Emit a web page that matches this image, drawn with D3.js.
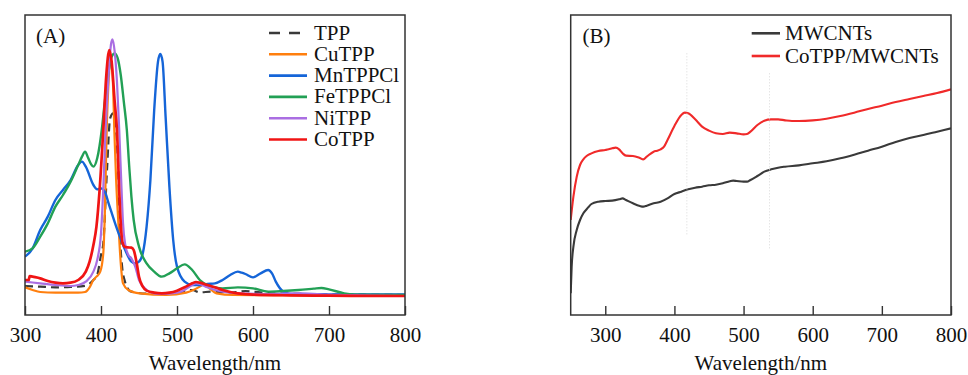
<!DOCTYPE html>
<html><head><meta charset="utf-8">
<script src="https://cdn.jsdelivr.net/npm/d3@7"></script>
<style>
html,body{margin:0;padding:0;background:#fff;}
svg text{font-family:"Liberation Serif","Times New Roman",serif;fill:#111;}
</style></head>
<body><svg id="c" width="968" height="375"></svg>
<script>
// ---------- DATA (wavelength nm, absorbance a.u.) ----------
const ticksA = [300, 400, 500, 600, 700, 800];
const ticksB = [300, 400, 500, 600, 700, 800];
const xTitle = "Wavelength/nm";

const seriesNamesA = ["TPP", "CuTPP", "MnTPPCl", "FeTPPCl", "NiTPP", "CoTPP"];

const TPP = [[300,.087],[320,.085],[340,.083],[360,.084],[380,.088],[390,.105],[395,.12],[400,.18],[403,.215],[408,.44],[412,.59],[416,.605],[420,.55],[423,.42],[425,.245],[428,.14],[431,.105],[435,.08],[440,.07],[460,.064],[480,.063],[500,.065],[512,.072],[520,.075],[530,.068],[545,.070],[555,.069],[575,.068],[590,.072],[600,.070],[620,.066],[650,.064],[700,.062],[800,.060]];

const CuTPP = [[300,.083],[310,.075],[320,.069],[340,.067],[370,.067],[379,.069],[385,.083],[390,.105],[394,.115],[399,.13],[403,.185],[405,.3],[407.5,.555],[410,.7],[413,.77],[416,.68],[417.5,.555],[420,.4],[423,.27],[426,.155],[429,.095],[436,.075],[451,.065],[486,.06],[512,.067],[530,.085],[535,.092],[541,.083],[552,.065],[574,.06],[800,.058]];

const MnTPPCl = [[300,.175],[310,.2],[320,.255],[330,.295],[340,.345],[350,.375],[360,.405],[370,.45],[375,.46],[380,.445],[390,.39],[395,.377],[400,.38],[405,.37],[410,.335],[420,.265],[430,.205],[440,.16],[445,.155],[450,.16],[455,.185],[460,.265],[465,.405],[470,.615],[475,.76],[478,.783],[481,.76],[485,.595],[490,.385],[495,.225],[500,.145],[510,.1],[520,.09],[530,.09],[540,.093],[550,.095],[560,.105],[570,.12],[580,.13],[585,.127],[590,.123],[600,.113],[610,.125],[620,.135],[625,.125],[630,.1],[640,.07],[650,.063],[700,.062],[800,.062]];

const FeTPPCl = [[300,.19],[310,.2],[320,.235],[330,.275],[340,.325],[350,.36],[360,.4],[370,.45],[375,.475],[379,.49],[383,.472],[387,.452],[390,.445],[395,.47],[401,.555],[405,.64],[410,.73],[414,.775],[418,.785],[422,.77],[426,.72],[430,.64],[434,.555],[437,.45],[440,.355],[443,.285],[450,.205],[460,.155],[470,.13],[480,.115],[490,.125],[500,.14],[510,.152],[520,.135],[530,.105],[540,.09],[550,.083],[560,.08],[580,.083],[600,.08],[620,.07],[640,.072],[660,.075],[680,.079],[690,.081],[700,.077],[720,.065],[740,.061],[800,.06]];

const NiTPP = [[300,.1],[320,.095],[340,.09],[360,.087],[370,.09],[380,.1],[390,.13],[395,.165],[400,.245],[403,.38],[406,.555],[410,.72],[413,.81],[415,.827],[418,.79],[421,.7],[424,.555],[427,.38],[429,.275],[432,.21],[436,.18],[440,.17],[445,.145],[450,.105],[460,.075],[470,.065],[480,.063],[500,.067],[510,.075],[520,.09],[525,.095],[530,.093],[540,.083],[550,.075],[560,.07],[580,.065],[620,.063],[660,.065],[700,.061],[800,.057]];

const CoTPP = [[300,.105],[305,.105],[306,.117],[310,.115],[320,.11],[330,.102],[340,.097],[350,.095],[360,.097],[370,.105],[380,.13],[385,.16],[390,.21],[394,.265],[398,.37],[403,.555],[407,.72],[411,.795],[414,.76],[418,.64],[421,.555],[424,.37],[426,.275],[428,.22],[431,.205],[435,.203],[440,.202],[443,.195],[447,.155],[450,.115],[455,.085],[460,.073],[470,.067],[480,.065],[490,.067],[500,.073],[510,.083],[520,.095],[525,.099],[530,.097],[540,.09],[550,.083],[560,.075],[570,.069],[580,.065],[600,.061],[650,.059],[700,.058],[800,.057]];

const seriesNamesB = ["MWCNTs", "CoTPP/MWCNTs"];

const MWCNTs = [[250,.065],[251.4,.145],[253.9,.205],[258.7,.255],[263.5,.285],[268.3,.305],[275,.322],[280,.333],[290,.34],[300,.342],[310,.343],[320,.347],[325,.35],[330,.345],[340,.335],[350,.327],[355,.325],[360,.328],[370,.335],[380,.34],[390,.35],[400,.363],[410,.37],[420,.377],[430,.382],[440,.385],[450,.389],[460,.391],[470,.395],[480,.401],[485,.403],[490,.402],[500,.4],[505,.4],[510,.405],[520,.417],[530,.43],[540,.437],[550,.442],[560,.445],[580,.449],[600,.455],[620,.461],[640,.47],[660,.481],[680,.493],[700,.505],[720,.519],[740,.531],[760,.54],[780,.55],[800,.56]];

const CoTPP_MWCNTs = [[250,.285],[253.9,.355],[258.7,.415],[263.5,.45],[268.3,.467],[273,.477],[280,.485],[290,.492],[300,.495],[305,.497],[310,.5],[315,.502],[320,.497],[325,.485],[330,.478],[340,.477],[350,.471],[355,.467],[360,.475],[370,.49],[375,.493],[380,.497],[385,.505],[390,.525],[400,.567],[410,.6],[415,.607],[420,.605],[430,.587],[440,.565],[450,.553],[460,.545],[470,.543],[480,.547],[490,.545],[500,.542],[505,.543],[510,.55],[520,.57],[530,.583],[540,.587],[550,.587],[560,.584],[570,.582],[580,.582],[600,.584],[620,.589],[640,.597],[660,.607],[680,.618],[700,.628],[720,.639],[740,.648],[760,.657],[780,.666],[800,.677]];

// guide lines in panel B: wavelength, top value, bottom value
const guideWl = [418, 537.5];
const guideTop = [.785, .725];
const guideBottom = [.24, .195];

// ---------- STYLE ----------
const colorsA = ["#3a3a3a", "#ff7f0e", "#1565d8", "#22a055", "#aa6ee2", "#f01414"];
const colorsB = ["#3a3a3a", "#f02a2a"];

const svg = d3.select("#c");
const fs = 21;

function panel(opts){
  const {x0,x1,y0,y1,domain,ticks,series,names,colors,dashes,label,legend} = opts;
  const x = d3.scaleLinear().domain(domain).range([x0,x1]);
  const y = d3.scaleLinear().domain([0,0.9]).range([y1,y0]);
  const g = svg.append("g");
  const ax = g.append("g").attr("transform",`translate(0,${y1})`)
    .call(d3.axisBottom(x).tickValues(ticks).tickSizeInner(-9).tickSizeOuter(0).tickPadding(12).tickFormat(d3.format("d")));
  ax.select(".domain").remove();
  ax.selectAll(".tick line").attr("stroke","#333").attr("stroke-width",1.4);
  ax.selectAll(".tick text").style("font-family","Liberation Serif, serif").style("font-size",fs+"px").attr("fill","#111");
  if (opts.guides) opts.guides();
  const clipId = "clip"+label.replace(/\W/g,"");
  g.append("clipPath").attr("id",clipId).append("rect").attr("x",x0).attr("y",y0).attr("width",x1-x0).attr("height",y1-y0);
  const line = d3.line().x(d=>x(d[0])).y(d=>y(d[1])).curve(d3.curveMonotoneX);
  series.forEach((s,i)=>{
    g.append("path").attr("d",line(s)).attr("fill","none").attr("stroke",colors[i])
      .attr("stroke-width",opts.widths[i]).attr("stroke-dasharray",dashes[i]||null)
      .attr("stroke-linejoin","round").attr("clip-path",`url(#${clipId})`);
  });
  g.append("rect").attr("x",x0).attr("y",y0).attr("width",x1-x0).attr("height",y1-y0)
    .attr("fill","none").attr("stroke","#333").attr("stroke-width",1.5);
  g.append("text").attr("x",label==="(A)"?36:582.5).attr("y",42.5).style("font-size",fs+"px").text(label);
  g.append("text").attr("x",(x0+x1)/2).attr("y",370).attr("text-anchor","middle").style("font-size",fs+"px").text(xTitle);
  names.forEach((n,i)=>{
    const ly = legend.y + i*legend.dy;
    g.append("line").attr("x1",legend.lx1).attr("x2",legend.lx2).attr("y1",ly).attr("y2",ly)
      .attr("stroke",colors[i]).attr("stroke-width",opts.widths[i]>2?2.6:2.4).attr("stroke-dasharray",dashes[i]?"11,9":null);
    g.append("text").attr("x",legend.tx).attr("y",ly+6.5).style("font-size",fs+"px").text(n);
  });
  return {x,y,g};
}

panel({x0:25,x1:405,y0:15,y1:315,domain:[300,800],ticks:ticksA,
  series:[TPP,CuTPP,MnTPPCl,FeTPPCl,NiTPP,CoTPP],names:seriesNamesA,colors:colorsA,
  dashes:["8,5",null,null,null,null,null],widths:[2.2,2.2,2.4,2.4,2.2,2.7],label:"(A)",
  legend:{y:33,dy:21.3,lx1:269,lx2:307,tx:314}});

const B = {x0:570.7,x1:951,y0:15,y1:315};
const xB = d3.scaleLinear().domain([250,800]).range([B.x0,B.x1]);
const yB = d3.scaleLinear().domain([0,0.9]).range([B.y1,B.y0]);
panel({...B,domain:[250,800],ticks:ticksB,
  series:[MWCNTs,CoTPP_MWCNTs],names:seriesNamesB,colors:colorsB,
  dashes:[null,null],widths:[2.1,2.1],label:"(B)",
  legend:{y:33.3,dy:22.7,lx1:751.7,lx2:780,tx:785},
  guides:()=>{
    guideWl.forEach((w,i)=>{
      svg.append("line").attr("x1",xB(w)).attr("x2",xB(w)).attr("y1",yB(guideTop[i])).attr("y2",yB(guideBottom[i]))
        .attr("stroke","#d8d8d8").attr("stroke-width",1).attr("stroke-dasharray","1,2");
    });
  }});
</script></body></html>
